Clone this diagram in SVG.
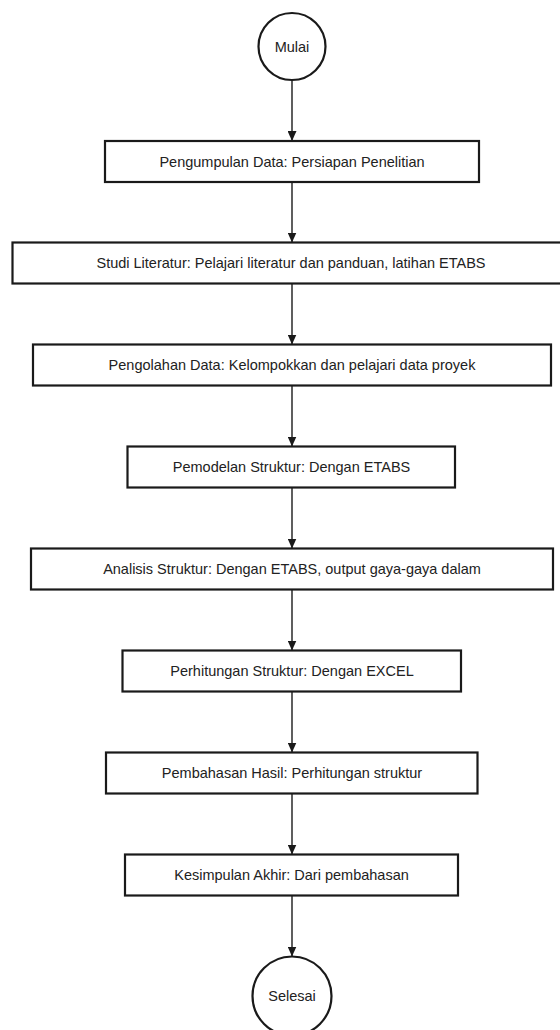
<svg xmlns="http://www.w3.org/2000/svg" width="560" height="1030" viewBox="0 0 560 1030">
  <style>
    .box { fill: #ffffff; stroke: #1a1a1a; stroke-width: 2.2; }
    .term { fill: #ffffff; stroke: #1a1a1a; stroke-width: 2.2; }
    .lbl { font-family: "Liberation Sans", Arial, sans-serif; font-size: 14.5px; fill: #222222; text-anchor: middle; }
    .edge { stroke: #1a1a1a; stroke-width: 1.4; fill: none; marker-end: url(#arrow); }
  </style>
  <defs>
    <marker id="arrow" viewBox="0 0 10 9" refX="10" refY="4.5" markerWidth="10" markerHeight="9" markerUnits="userSpaceOnUse" orient="auto">
      <path d="M0,0 L10,4.5 L0,9 Z" fill="#1a1a1a"/>
    </marker>
  </defs>
  <rect width="560" height="1030" fill="#ffffff"/>

  <g id="connectors">
    <line class="edge" x1="292" y1="80" x2="292" y2="141"/>
    <line class="edge" x1="292" y1="182" x2="292" y2="242.5"/>
    <line class="edge" x1="292" y1="283.5" x2="292" y2="344.5"/>
    <line class="edge" x1="292" y1="385.5" x2="292" y2="446.5"/>
    <line class="edge" x1="292" y1="487.5" x2="292" y2="548.5"/>
    <line class="edge" x1="292" y1="589.5" x2="292" y2="650.5"/>
    <line class="edge" x1="292" y1="691.5" x2="292" y2="752.5"/>
    <line class="edge" x1="292" y1="793.5" x2="292" y2="854.5"/>
    <line class="edge" x1="292" y1="895.5" x2="292" y2="956.5"/>
  </g>

  <g id="mulai">
    <circle class="term" cx="292" cy="46.5" r="33.5"/>
    <text class="lbl" x="292" y="51.5">Mulai</text>
  </g>

  <g id="pengumpulan">
    <rect class="box" x="105" y="141" width="374" height="41"/>
    <text class="lbl" x="292" y="166.5">Pengumpulan Data: Persiapan Penelitian</text>
  </g>

  <g id="studi">
    <rect class="box" x="12.5" y="242.5" width="559" height="41"/>
    <text class="lbl" x="291" y="268">Studi Literatur: Pelajari literatur dan panduan, latihan ETABS</text>
  </g>

  <g id="pengolahan">
    <rect class="box" x="33" y="344.5" width="518" height="41"/>
    <text class="lbl" x="292" y="370">Pengolahan Data: Kelompokkan dan pelajari data proyek</text>
  </g>

  <g id="pemodelan">
    <rect class="box" x="127.5" y="446.5" width="327.5" height="41"/>
    <text class="lbl" x="291.5" y="472">Pemodelan Struktur: Dengan ETABS</text>
  </g>

  <g id="analisis">
    <rect class="box" x="31" y="548.5" width="522" height="41"/>
    <text class="lbl" x="292" y="574">Analisis Struktur: Dengan ETABS, output gaya-gaya dalam</text>
  </g>

  <g id="perhitungan">
    <rect class="box" x="122.5" y="650.5" width="338.5" height="41"/>
    <text class="lbl" x="292" y="676">Perhitungan Struktur: Dengan EXCEL</text>
  </g>

  <g id="pembahasan">
    <rect class="box" x="106" y="752.5" width="371.5" height="41"/>
    <text class="lbl" x="292" y="778">Pembahasan Hasil: Perhitungan struktur</text>
  </g>

  <g id="kesimpulan">
    <rect class="box" x="125" y="854.5" width="333" height="41"/>
    <text class="lbl" x="291.5" y="880">Kesimpulan Akhir: Dari pembahasan</text>
  </g>

  <g id="selesai">
    <circle class="term" cx="292" cy="996" r="39.5"/>
    <text class="lbl" x="292" y="1001">Selesai</text>
  </g>
</svg>
